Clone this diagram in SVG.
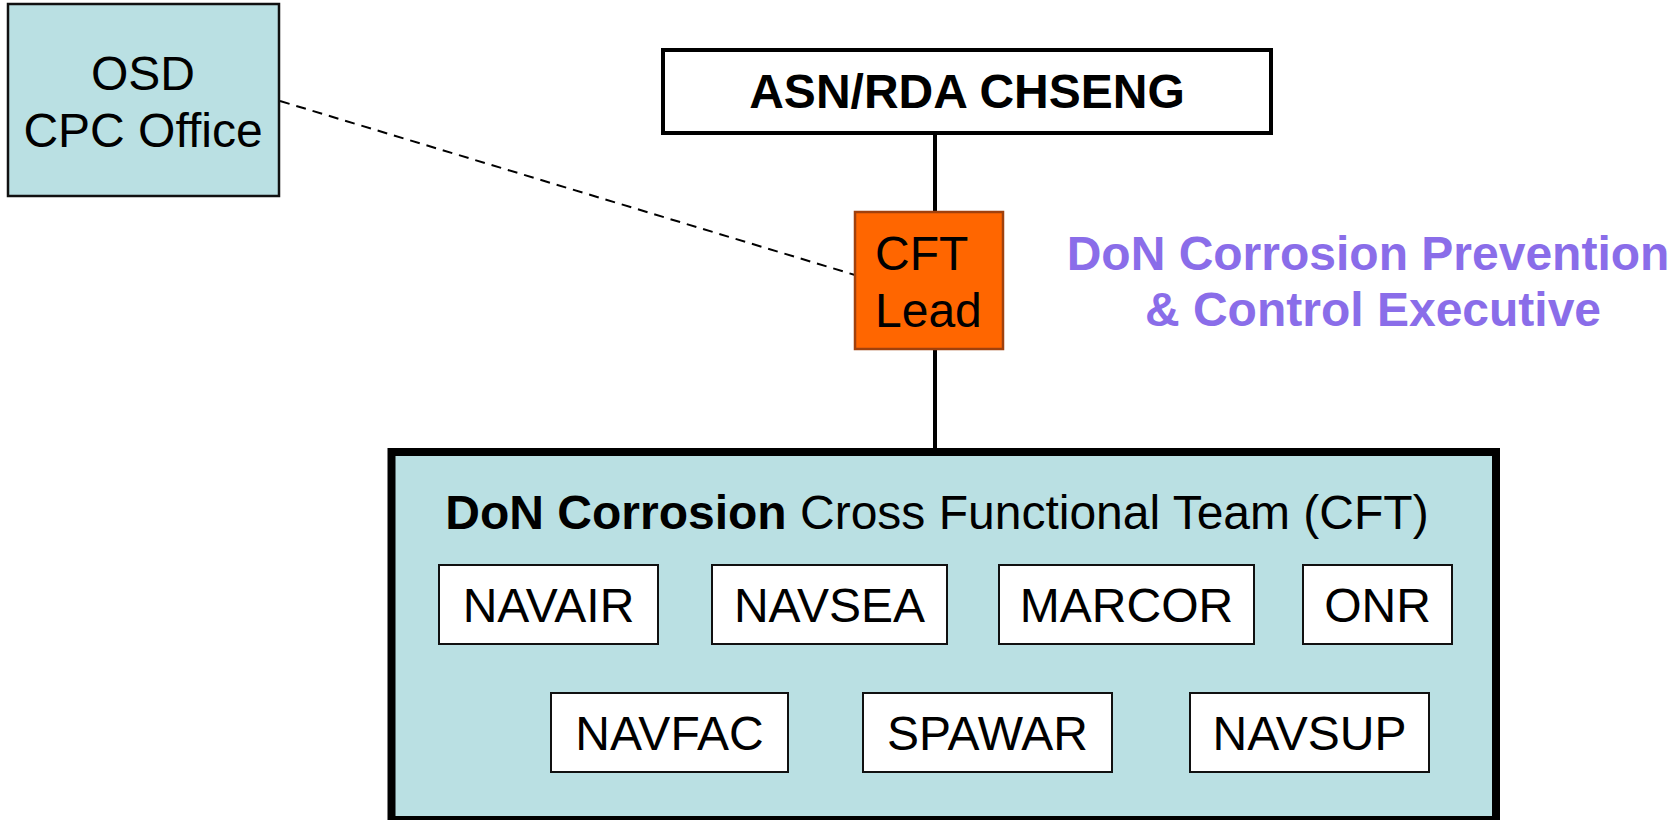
<svg xmlns="http://www.w3.org/2000/svg" width="1678" height="820" viewBox="0 0 1678 820">
<style>
text{font-family:"Liberation Sans",Arial,sans-serif;font-size:48px;fill:#000}
.b{font-weight:bold}
.c{text-anchor:middle}
.unit{fill:#fff;stroke:#111;stroke-width:2}
.conn{stroke:#000;stroke-width:4;fill:none}
.purple{fill:#8A6DE9;font-weight:bold}
</style>
<rect width="1678" height="820" fill="#fff"/>
<g id="connectors">
<line class="conn" x1="935" y1="133" x2="935" y2="212"/>
<line class="conn" x1="935" y1="349" x2="935" y2="450"/>
<line x1="280" y1="101" x2="855" y2="275" stroke="#000" stroke-width="2" stroke-dasharray="10,7"/>
</g>
<g id="osd">
<rect x="8" y="4" width="271" height="192" fill="#BAE0E3" stroke="#111" stroke-width="2.5"/>
<text class="c" x="143" y="90">OSD</text>
<text class="c" x="143" y="147">CPC Office</text>
</g>
<g id="asn">
<rect x="663" y="50" width="608" height="83" fill="#fff" stroke="#000" stroke-width="4"/>
<text class="c b" x="967" y="108">ASN/RDA CHSENG</text>
</g>
<g id="cftlead">
<rect x="855" y="212" width="148" height="137" fill="#FF6600" stroke="#A0410D" stroke-width="2.5"/>
<text x="875" y="270">CFT</text>
<text x="875" y="327">Lead</text>
</g>
<g id="executive">
<text class="c purple" x="1368" y="270">DoN Corrosion Prevention</text>
<text class="c purple" x="1373" y="326">&amp; Control Executive</text>
</g>
<g id="cft">
<rect x="391.5" y="452" width="1104.5" height="368" fill="#BAE0E3" stroke="#000" stroke-width="8"/>
<text class="c" x="937" y="529"><tspan class="b">DoN Corrosion</tspan> Cross Functional Team (CFT)</text>
</g>
<g id="navair"><rect class="unit" x="439" y="565" width="219" height="79"/><text class="c" x="548.5" y="622">NAVAIR</text></g>
<g id="navsea"><rect class="unit" x="712" y="565" width="235" height="79"/><text class="c" x="829.5" y="622">NAVSEA</text></g>
<g id="marcor"><rect class="unit" x="999" y="565" width="255" height="79"/><text class="c" x="1126.5" y="622">MARCOR</text></g>
<g id="onr"><rect class="unit" x="1303" y="565" width="149" height="79"/><text class="c" x="1377.5" y="622">ONR</text></g>
<g id="navfac"><rect class="unit" x="551" y="693" width="237" height="79"/><text class="c" x="669.5" y="750">NAVFAC</text></g>
<g id="spawar"><rect class="unit" x="863" y="693" width="249" height="79"/><text class="c" x="987.5" y="750">SPAWAR</text></g>
<g id="navsup"><rect class="unit" x="1190" y="693" width="239" height="79"/><text class="c" x="1309.5" y="750">NAVSUP</text></g>
</svg>
